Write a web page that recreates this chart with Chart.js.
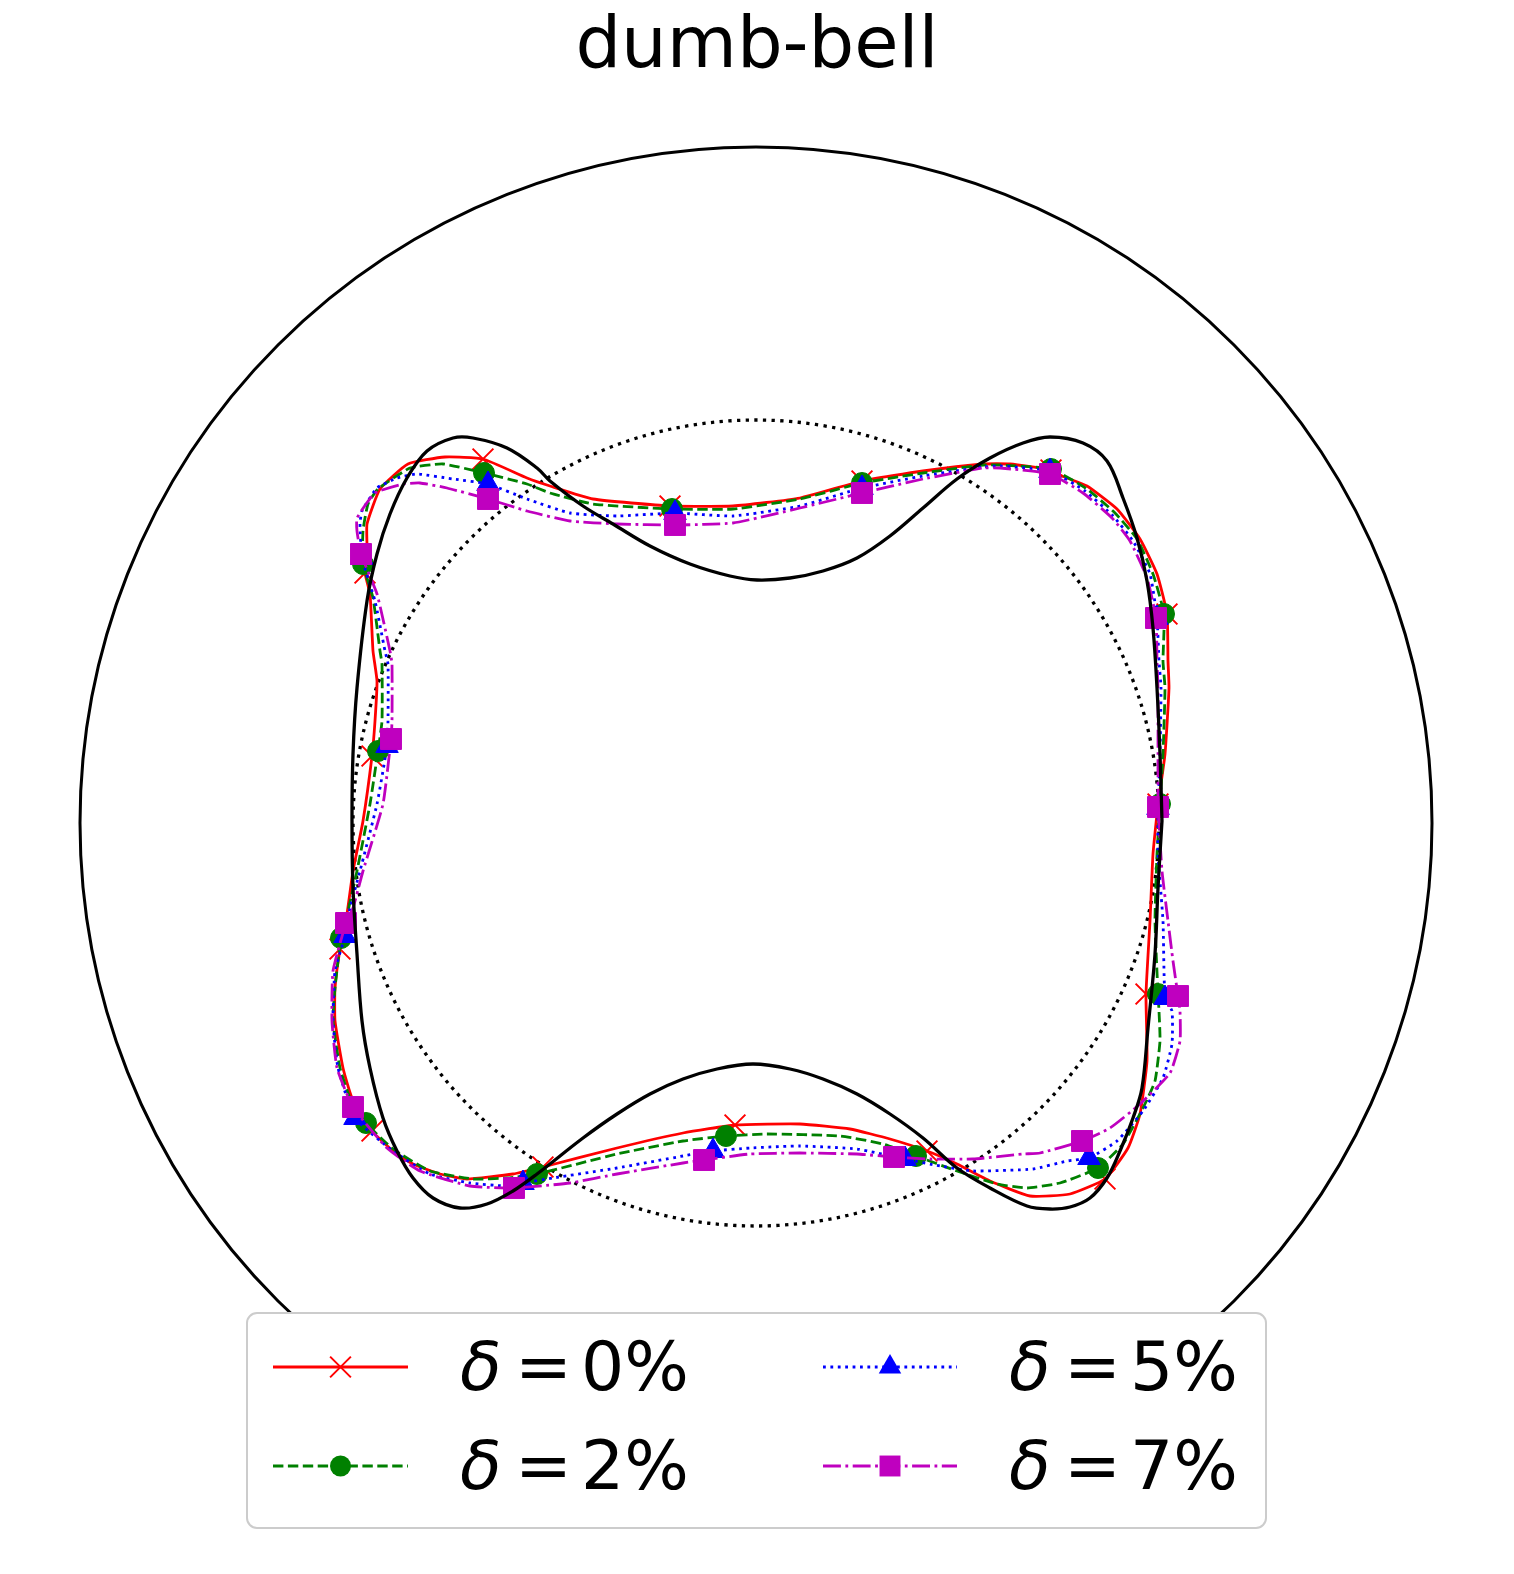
<!DOCTYPE html>
<html lang="en">
  <head>
    <meta charset="UTF-8" />
    <title>dumb-bell</title>
    <script src="https://cdn.jsdelivr.net/npm/chart.js@4.4.1/dist/chart.umd.min.js"></script>
    <style>
      body { margin: 0; background: #fff; }
      canvas { display: block; }
    </style>
  </head>
<body>
<canvas id="chart" width="1514" height="1574"></canvas>
<script>
  // all shapes in the same units, origin at the centre of the polar frame
  const title = 'dumb-bell';
  const labels = ['0%', '2%', '5%', '7%'];
  const outerRadius = 6.76;
  const refRadius = 4.03;

  // true boundary
  const blackX = [4.06,4.04,4.01,3.97,3.91,3.81,3.67,3.51,3.27,2.94,2.67,2.34,2.01,1.67,1.34,1.01,0.67,0.34,0.01,-0.26,-0.66,-1.06,-1.43,-1.73,-2.06,-2.19,-2.49,-2.83,-3.03,-3.29,-3.49,-3.66,-3.79,-3.89,-3.99,-4.03,-4.04,-4.03,-3.99,-3.94,-3.86,-3.73,-3.59,-3.43,-3.23,-2.96,-2.69,-2.43,-2.19,-1.73,-1.39,-1.06,-0.73,-0.39,-0.03,0.34,0.67,1.01,1.34,1.67,2.01,2.34,2.71,2.94,3.14,3.34,3.51,3.64,3.77,3.86,3.92,3.99,4.02];
  const blackY = [0.02,0.69,1.35,1.95,2.42,2.85,3.25,3.62,3.80,3.86,3.80,3.65,3.44,3.15,2.87,2.65,2.52,2.45,2.43,2.47,2.59,2.77,2.99,3.17,3.42,3.55,3.75,3.85,3.85,3.72,3.45,3.09,2.69,2.22,1.35,0.69,0.02,-0.65,-1.31,-1.98,-2.45,-2.95,-3.28,-3.55,-3.75,-3.85,-3.81,-3.68,-3.51,-3.15,-2.91,-2.71,-2.56,-2.46,-2.41,-2.46,-2.56,-2.71,-2.91,-3.15,-3.45,-3.65,-3.83,-3.86,-3.84,-3.75,-3.55,-3.28,-2.95,-2.65,-2.05,-1.31,-0.65];

  // delta = 0%
  const redX = [4.02,4.09,4.13,4.12,4.11,4.01,3.84,3.61,3.31,3.06,2.95,2.54,2.27,1.67,1.06,0.44,-0.23,-0.86,-1.63,-2.06,-2.29,-2.73,-3.11,-3.48,-3.76,-3.89,-3.89,-3.91,-3.86,-3.83,-3.79,-3.81,-3.84,-3.93,-4.03,-4.09,-4.16,-4.21,-4.21,-4.13,-4.04,-3.84,-3.63,-3.43,-3.16,-2.89,-2.43,-2.13,-1.39,-0.73,-0.21,0.44,0.94,1.34,1.71,2.01,2.34,2.74,3.14,3.49,3.72,3.84,3.91,3.90,3.94,3.97];
  const redY = [0.19,0.69,1.35,1.62,2.09,2.49,2.84,3.14,3.37,3.47,3.53,3.59,3.59,3.52,3.42,3.25,3.17,3.17,3.24,3.37,3.45,3.64,3.66,3.59,3.34,2.99,2.75,2.50,2.29,1.72,1.42,1.02,0.67,0.02,-0.48,-0.91,-1.26,-1.65,-1.98,-2.45,-2.75,-3.08,-3.28,-3.41,-3.51,-3.56,-3.51,-3.44,-3.25,-3.10,-3.02,-3.01,-3.06,-3.16,-3.28,-3.41,-3.58,-3.73,-3.71,-3.56,-3.25,-2.91,-2.38,-1.71,-0.98,-0.31];
  const redMarks = [0,4,10,14,17,21,27,32,36,41,47,50,54,59,63];

  // delta = 2%
  const greenX = [4.04,4.07,4.09,4.07,4.08,3.97,3.81,3.59,3.31,2.95,2.44,2.27,1.67,1.06,0.44,-0.23,-0.84,-1.63,-2.06,-2.29,-2.72,-3.13,-3.46,-3.78,-3.88,-3.93,-3.93,-3.83,-3.76,-3.74,-3.74,-3.78,-3.86,-3.99,-4.08,-4.15,-4.21,-4.23,-4.16,-4.06,-3.90,-3.63,-3.26,-2.83,-2.49,-2.19,-1.39,-0.73,-0.30,0.11,0.84,1.27,1.60,2.01,2.41,2.71,3.04,3.42,3.67,3.87,3.99,4.04,4.03,4.02,3.99,4.01];
  const greenY = [0.19,0.69,1.35,1.62,2.09,2.49,2.84,3.10,3.34,3.54,3.58,3.58,3.50,3.40,3.24,3.14,3.14,3.19,3.30,3.39,3.50,3.59,3.55,3.34,3.19,2.92,2.59,2.25,1.72,1.59,1.02,0.72,0.19,-0.48,-0.88,-1.15,-1.65,-1.98,-2.45,-2.75,-3.00,-3.26,-3.48,-3.56,-3.55,-3.51,-3.31,-3.18,-3.13,-3.11,-3.13,-3.21,-3.33,-3.48,-3.61,-3.65,-3.60,-3.45,-3.21,-2.85,-2.58,-2.18,-1.88,-1.71,-0.98,-0.31];
  const greenMarks = [0,4,9,13,16,20,26,31,35,40,45,48,52,57,63];

  // delta = 5%
  const blueX = [4.02,4.04,4.05,4.03,4.01,3.94,3.77,3.57,3.29,2.94,2.44,2.27,1.67,1.06,0.44,-0.23,-0.81,-1.39,-1.86,-2.29,-2.68,-3.03,-3.39,-3.59,-3.79,-3.94,-3.96,-3.94,-3.81,-3.71,-3.68,-3.68,-3.69,-3.79,-3.96,-4.06,-4.11,-4.21,-4.23,-4.18,-4.01,-3.63,-3.26,-2.86,-2.49,-2.33,-2.03,-1.39,-0.73,-0.43,-0.06,0.44,1.01,1.49,1.84,2.17,2.77,3.11,3.33,3.61,3.87,4.07,4.16,4.16,4.09,4.07,4.02];
  const blueY = [0.15,0.69,1.35,1.62,2.05,2.49,2.82,3.07,3.32,3.52,3.57,3.56,3.47,3.35,3.17,3.07,3.10,3.07,3.10,3.24,3.39,3.44,3.49,3.45,3.35,3.12,2.99,2.65,2.22,1.72,1.59,1.02,0.77,0.19,-0.48,-0.85,-1.13,-1.48,-1.98,-2.45,-2.95,-3.28,-3.51,-3.60,-3.63,-3.60,-3.55,-3.45,-3.33,-3.28,-3.25,-3.23,-3.26,-3.36,-3.43,-3.48,-3.46,-3.38,-3.35,-3.18,-2.88,-2.55,-2.21,-1.88,-1.75,-0.98,-0.31];
  const blueMarks = [0,4,9,13,16,20,27,32,36,40,45,49,53,58,64];

  // delta = 7%
  const magentaX = [4.02,4.02,4.02,4.01,4.00,3.91,3.74,3.56,3.27,2.94,2.44,2.27,1.67,1.06,0.44,-0.23,-0.81,-1.39,-1.86,-2.29,-2.68,-3.09,-3.36,-3.53,-3.81,-3.99,-3.99,-3.95,-3.79,-3.66,-3.64,-3.64,-3.65,-3.73,-3.93,-4.03,-4.10,-4.23,-4.24,-4.19,-4.03,-3.69,-3.36,-2.86,-2.42,-1.86,-1.39,-0.73,-0.52,-0.06,0.44,1.01,1.38,1.74,2.17,2.67,2.84,3.26,3.54,3.84,4.14,4.24,4.24,4.22,4.17,4.12,4.06];
  const magentaY = [0.16,0.69,1.35,1.62,2.05,2.45,2.82,3.05,3.30,3.49,3.55,3.55,3.44,3.30,3.15,3.00,2.98,2.99,3.02,3.12,3.24,3.35,3.40,3.39,3.30,3.05,2.92,2.69,2.29,1.72,1.59,1.02,0.84,0.19,-0.48,-0.85,-1.00,-1.48,-1.98,-2.45,-2.84,-3.25,-3.48,-3.63,-3.65,-3.60,-3.51,-3.40,-3.37,-3.31,-3.30,-3.31,-3.34,-3.36,-3.36,-3.31,-3.30,-3.18,-3.05,-2.81,-2.50,-2.18,-1.88,-1.73,-1.38,-0.98,-0.48];
  const magentaMarks = [0,4,9,13,16,20,27,32,36,40,44,48,52,57,63];

  // centre of the frame on the page, 100 px per unit
  const CX = 756, CY = 823, PX = 100;
  const W = 1514, H = 1574;

  function loop(xs, ys) {
    const pts = xs.map((v, i) => ({x: v, y: ys[i]}));
    pts.push(pts[0]);
    return pts;
  }
  function marks(n, idx, r) {
    const a = new Array(n + 1).fill(0);
    idx.forEach(i => a[i] = r);
    return a;
  }

  const styles = [
    {color: '#ff0000', dash: [], point: 'crossRot', r: 14.7, pw: 2},
    {color: '#008000', dash: [10.4, 4.5], point: 'circle', r: 10.5, pw: 1},
    {color: '#0000ff', dash: [2.8, 4.6], point: 'triangle', r: 13, pw: 1},
    {color: '#bf00bf', dash: [17.9, 4.5, 2.8, 4.5], point: 'rect', r: 14.8, pw: 1}
  ];

  function series(i, xs, ys, idx) {
    const s = styles[i];
    return {
      label: 'δ = ' + labels[i],
      data: loop(xs, ys),
      showLine: true,
      borderColor: s.color,
      borderWidth: 2.8,
      borderDash: s.dash,
      borderJoinStyle: 'round',
      tension: 0.15,
      pointStyle: s.point,
      pointRadius: marks(xs.length, idx, s.r),
      pointHoverRadius: marks(xs.length, idx, s.r),
      pointBackgroundColor: s.color,
      pointBorderColor: s.color,
      pointBorderWidth: s.pw,
      order: 4 - i
    };
  }

  // marker shapes for the legend, same look as chart points
  function drawMarker(ctx, s, x, y) {
    ctx.save();
    ctx.setLineDash([]);
    ctx.fillStyle = s.color;
    ctx.strokeStyle = s.color;
    ctx.lineWidth = s.pw;
    ctx.beginPath();
    if (s.point === 'crossRot') {
      const d = s.r * Math.SQRT1_2;
      ctx.moveTo(x - d, y - d); ctx.lineTo(x + d, y + d);
      ctx.moveTo(x - d, y + d); ctx.lineTo(x + d, y - d);
      ctx.stroke();
    } else if (s.point === 'circle') {
      ctx.arc(x, y, s.r, 0, 2 * Math.PI);
      ctx.fill();
    } else if (s.point === 'triangle') {
      ctx.moveTo(x, y - s.r);
      ctx.lineTo(x + 0.866 * s.r, y + 0.5 * s.r);
      ctx.lineTo(x - 0.866 * s.r, y + 0.5 * s.r);
      ctx.closePath();
      ctx.fill();
    } else {
      const d = s.r * Math.SQRT1_2;
      ctx.rect(x - d, y - d, 2 * d, 2 * d);
      ctx.fill();
    }
    ctx.restore();
  }

  const frame = {
    id: 'frame',
    beforeDatasetsDraw(chart) {
      const {ctx, scales: {x, y}} = chart;
      const cx = x.getPixelForValue(0), cy = y.getPixelForValue(0);
      ctx.save();
      ctx.strokeStyle = '#000';
      ctx.lineWidth = 3;
      ctx.beginPath();
      ctx.arc(cx, cy, x.getPixelForValue(outerRadius) - cx, 0, 2 * Math.PI);
      ctx.stroke();
      ctx.lineWidth = 3.3;
      ctx.setLineDash([3.3, 5.4]);
      ctx.beginPath();
      ctx.arc(cx, cy, x.getPixelForValue(refRadius) - cx, 0, 2 * Math.PI);
      ctx.stroke();
      ctx.restore();
    },
    afterDraw(chart) {
      const ctx = chart.ctx;
      ctx.save();
      // title
      ctx.fillStyle = '#000';
      ctx.font = '72px "DejaVu Sans"';
      ctx.textAlign = 'center';
      ctx.textBaseline = 'alphabetic';
      ctx.fillText(title, 757, 67);

      // legend box
      ctx.beginPath();
      ctx.roundRect(247, 1313, 1019, 215, 10);
      ctx.fillStyle = '#fff';
      ctx.fill();
      ctx.strokeStyle = '#cccccc';
      ctx.lineWidth = 2;
      ctx.stroke();

      const colX = [[273, 408, 460], [823, 957, 1009]];
      const rowY = [[1367, 1390], [1466, 1489]];
      ctx.textAlign = 'left';
      labels.forEach((lab, i) => {
        const s = styles[i];
        const c = colX[Math.floor(i / 2)], r = rowY[i % 2];
        ctx.strokeStyle = s.color;
        ctx.lineWidth = 2.8;
        ctx.setLineDash(s.dash);
        ctx.beginPath();
        ctx.moveTo(c[0], r[0]);
        ctx.lineTo(c[1], r[0]);
        ctx.stroke();
        drawMarker(ctx, s, (c[0] + c[1]) / 2, r[0]);
        ctx.fillStyle = '#000';
        ctx.font = 'italic 68px "DejaVu Sans"';
        ctx.fillText('δ', c[2], r[1]);
        ctx.font = '68px "DejaVu Sans"';
        ctx.fillText('=', c[2] + 55, r[1]);
        ctx.fillText(lab, c[2] + 121, r[1]);
      });
      ctx.restore();
    }
  };

  const ctx = document.getElementById('chart').getContext('2d');
  const chart = new Chart(ctx, {
    type: 'scatter',
    data: {
      datasets: [
        {
          label: 'exact',
          data: loop(blackX, blackY),
          showLine: true,
          borderColor: '#000',
          borderWidth: 3.3,
          borderJoinStyle: 'round',
          tension: 0.35,
          pointRadius: 0,
          pointHoverRadius: 0,
          order: 0
        },
        series(3, magentaX, magentaY, magentaMarks),
        series(2, blueX, blueY, blueMarks),
        series(1, greenX, greenY, greenMarks),
        series(0, redX, redY, redMarks)
      ]
    },
    options: {
      responsive: false,
      devicePixelRatio: 1,
      animation: false,
      events: [],
      layout: {padding: 0, autoPadding: false},
      plugins: {legend: {display: false}, title: {display: false}, tooltip: {enabled: false}},
      scales: {
        x: {type: 'linear', display: false, min: -CX / PX, max: (W - CX) / PX},
        y: {type: 'linear', display: false, min: -(H - CY) / PX, max: CY / PX}
      }
    },
    plugins: [frame]
  });
</script>
</body>
</html>
